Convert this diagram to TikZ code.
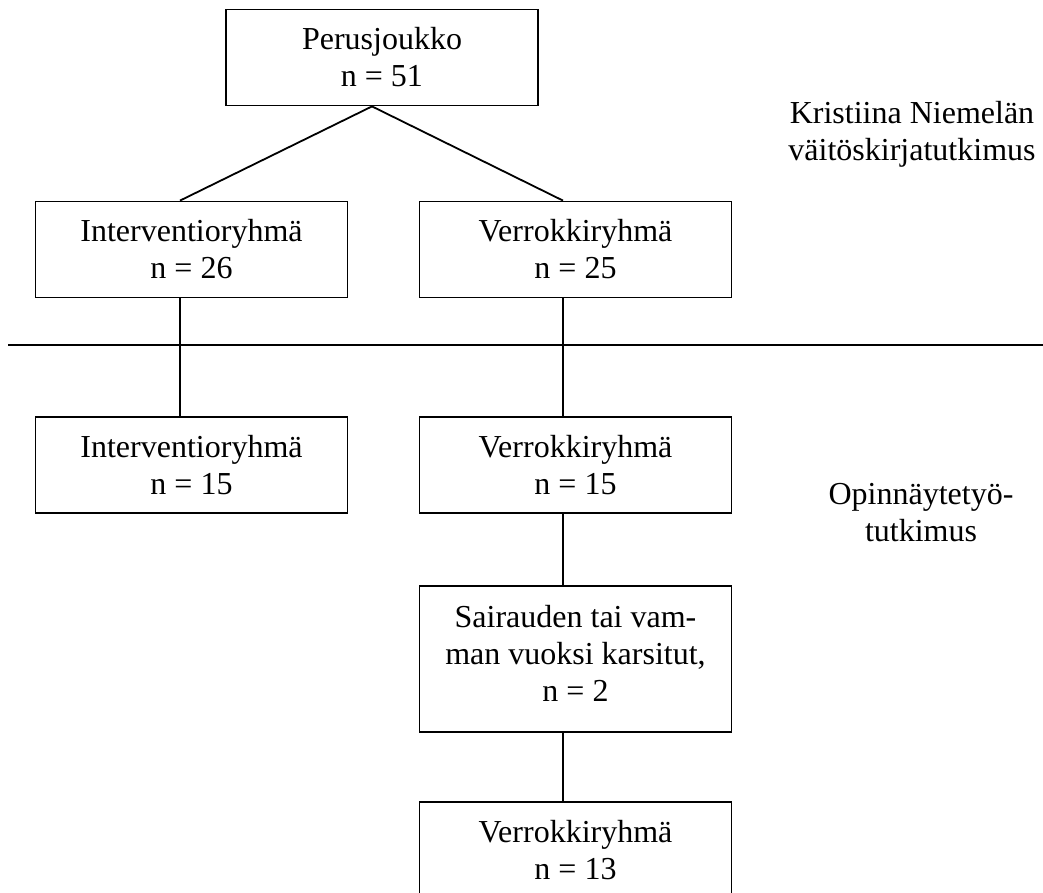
\documentclass[tikz,border=0pt]{standalone}
\usepackage{fontspec}
\setmainfont{Liberation Serif}
\begin{document}
\begin{tikzpicture}[x=1pt,y=-1pt,line width=1.8pt,
  box/.style={draw,line width=1.8pt,minimum width=312pt,minimum height=96pt,align=center,inner sep=0pt,font=\fontsize{32}{37}\selectfont},
  lbl/.style={align=center,inner sep=0pt,font=\fontsize{32}{37}\selectfont}]
\useasboundingbox (0,0) rectangle (1043,893);
\node[box] (top) at (382,57.5) {Perusjoukko\\n = 51};
\node[box] (i1) at (191.5,249.5) {Interventioryhmä\\n = 26};
\node[box] (v1) at (575.5,249.5) {Verrokkiryhmä\\n = 25};
\node[box] (i2) at (191.5,465) {Interventioryhmä\\n = 15};
\node[box] (v2) at (575.5,465) {Verrokkiryhmä\\n = 15};
\node[box,minimum height=146pt,text depth=12pt] (s) at (575.5,659) {Sairauden tai vam-\\man vuoksi karsitut,\\n = 2};
\node[box] (v3) at (575.5,849.7) {Verrokkiryhmä\\n = 13};
\node[lbl] (k) at (912,134) {Kristiina Niemelän\\väitöskirjatutkimus};
\node[lbl] (o) at (921,512.5) {Opinnäytetyö-\\tutkimus};
% connectors
\coordinate (apex) at ([xshift=-10pt]top.south);
\draw (apex) -- ([xshift=-11.5pt]i1.north);
\draw (apex) -- ([xshift=-12.5pt]v1.north);
\draw ([xshift=-11.5pt]i1.south) -- ([xshift=-11.5pt]i2.north);
\draw ([xshift=-12.5pt]v1.south) -- ([xshift=-12.5pt]v2.north);
\draw ([xshift=-12.5pt]v2.south) -- ([xshift=-12.5pt]s.north);
\draw ([xshift=-12.5pt]s.south) -- ([xshift=-12.5pt]v3.north);
\coordinate (hl) at (8,345);
\coordinate (hr) at (1043,345);
\draw (hl) -- (hr);
\end{tikzpicture}
\end{document}
